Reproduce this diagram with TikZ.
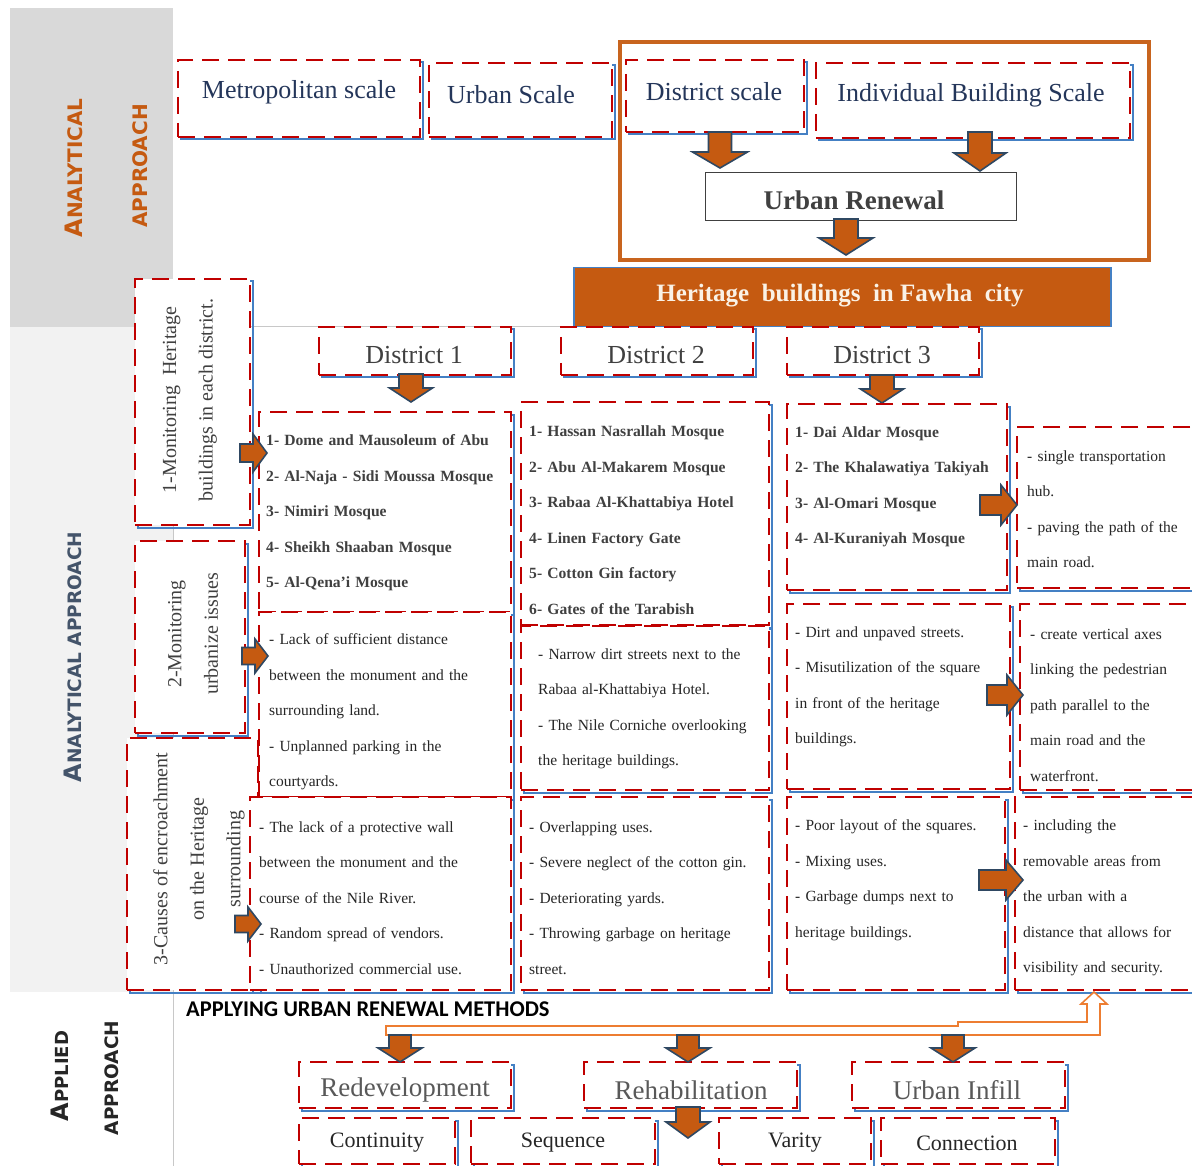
\documentclass[tikz,border=0pt]{standalone}
\usepackage{fontspec}
\setmainfont{Liberation Serif}
\newfontfamily\dvs{DejaVu Sans}
\newfontfamily\carl{Carlito}
\usetikzlibrary{calc}
\definecolor{dred}{RGB}{192,0,0}
\definecolor{sblue}{RGB}{68,128,196}
\definecolor{aorange}{RGB}{197,90,17}
\definecolor{adark}{RGB}{47,72,98}
\definecolor{fram}{RGB}{200,100,30}
\definecolor{connc}{RGB}{237,125,49}
\definecolor{tblue}{RGB}{36,54,90}
\definecolor{tgray}{RGB}{64,64,64}
\definecolor{tdark}{RGB}{38,38,38}
\definecolor{tmid}{RGB}{89,89,89}
\definecolor{bgA}{RGB}{217,217,217}
\definecolor{bgB}{RGB}{242,242,242}
\definecolor{slate}{RGB}{68,84,106}
\definecolor{cream}{RGB}{250,242,230}
\definecolor{gridc}{RGB}{200,200,200}
\tikzset{
  rbox/.style={draw=dred, line width=2.5pt, dash pattern=on 17pt off 9pt, fill=white,
    inner sep=0pt, outer sep=0pt, anchor=north west,
    preaction={draw=sblue, line width=2pt, solid, fill=none,
      transform canvas={xshift=2.5pt,yshift=-2.5pt}}},
  blk/.style={fill=aorange, draw=adark, line width=1.6pt, line join=miter},
  pics/darr/.style n args={4}{code={
    \draw[blk] (-#2,0) -- (#2,0) -- (#2,#1-#4) -- (#3,#1-#4) -- (0,#1) -- (-#3,#1-#4) -- (-#2,#1-#4) -- cycle;
  }},
  pics/rarr/.style n args={4}{code={
    \draw[blk] (0,-#2) -- (#1-#4,-#2) -- (#1-#4,-#3) -- (#1,0) -- (#1-#4,#3) -- (#1-#4,#2) -- (0,#2) -- cycle;
  }},
  sctext/.style={font=\fontsize{26}{30}\selectfont, text=tblue, inner sep=0pt},
  dtext/.style={font=\fontsize{26}{30}\selectfont, text=tgray, inner sep=0pt},
  mtext/.style={font=\fontsize{27}{30}\selectfont, text=tmid, inner sep=0pt},
  ptext/.style={font=\fontsize{22}{26}\selectfont, text=tdark, inner sep=0pt},
  listb/.style={font=\fontsize{15.6}{35.5}\selectfont\bfseries, text=tgray, anchor=west,
    inner sep=0pt, text width=250pt, align=left},
  listr/.style={font=\fontsize{15.5}{35.5}\selectfont, text=tdark, anchor=west,
    inner sep=0pt, text width=250pt, align=left},
  rot/.style={rotate=90, align=center, font=\fontsize{20}{36.5}\selectfont, text=tgray, inner sep=0pt},
  captext/.style={rotate=90, inner sep=0pt, font=\dvs\bfseries},
}
\newcommand{\mybox}[5]{\node[rbox, minimum width={#4-#2}, minimum height={#5-#3}] (#1) at (#2,#3) {};}
\begin{document}
\begin{tikzpicture}[x=1pt,y=-1pt]
\useasboundingbox (0,0) rectangle (1192,1166);
\fill[white] (0,0) rectangle (1192,1166);
% table background
\fill[bgA] (10,8) rectangle (173,327);
\fill[bgB] (10,327) rectangle (173,992);
\draw[gridc, line width=1pt] (173,327) -- (800,327);
\draw[gridc, line width=1pt] (173,327) -- (173,1166);
% side captions
\node[captext, text=aorange] (capA) at (74,168) {{\fontsize{24}{24}\selectfont A}{\fontsize{20}{20}\selectfont NALYTICAL}};
\node[captext, text=aorange] (capB) at (140,166) {\fontsize{20}{20}\selectfont APPROACH};
\node[captext, text=slate] (capC) at (73,657) {{\fontsize{24}{24}\selectfont A}{\fontsize{18.5}{20}\selectfont NALYTICAL APPROACH}};
\node[captext, text=tdark] (capD) at (60,1076) {{\fontsize{24}{24}\selectfont A}{\fontsize{18}{20}\selectfont PPLIED}};
\node[captext, text=tdark] (capE) at (112,1078) {\fontsize{18.5}{20}\selectfont APPROACH};
\node[anchor=base west, inner sep=0pt, font=\carl\bfseries\fontsize{22.5}{24}\selectfont, text=black] (applying) at (186,1016) {APPLYING URBAN RENEWAL METHODS};
% top scales
\mybox{metro}{178}{60}{420}{137}
\mybox{urban}{429}{63}{612}{137}
\node[draw=fram, line width=4pt, anchor=north west, inner sep=0pt, minimum width=529, minimum height=218] (frame) at (618,40) {};
\mybox{dscale}{626}{60}{804}{132}
\mybox{ibs}{816}{63}{1130}{138}
\node[sctext] (tmetro) at (299,92) {Metropolitan scale};
\node[sctext] (turban) at (511,95) {Urban Scale};
\node[sctext] (tdscale) at (714,92) {District scale};
\node[sctext] (tibs) at (971,95) {Individual Building Scale};
\node[draw=tgray, line width=1.2pt, fill=white, anchor=north west, inner sep=0pt, minimum width=311, minimum height=48] (renew) at (705,172) {};
\node[font=\fontsize{27}{30}\selectfont\bfseries, text=tgray, inner sep=0pt] (trenew) at (854,200) {Urban Renewal};
\node[fill=aorange, draw=sblue, line width=1.5pt, anchor=north west, inner sep=0pt, minimum width=537, minimum height=59] (herit) at (573,267) {};
\node[font=\fontsize{25}{28}\selectfont\bfseries, text=cream, inner sep=0pt] (therit) at (840,296) {Heritage\ \ buildings\ \ in Fawha\ \ city};
\pic (a1) at (720,132) {darr={36}{11.5}{27.5}{16}};
\pic (a2) at (980,132) {darr={39}{12}{26}{18}};
\pic (a3) at (846,219) {darr={36}{12}{27}{17}};
% left monitoring boxes
\mybox{m1}{135}{279}{250}{525}
\mybox{m2}{135}{541}{245}{733}
\mybox{m3}{127}{738}{258}{990}
\node[rot] (tm1) at (190,400) {1-Monitoring\ \ Heritage\\buildings in each district.};
\node[rot] (tm2) at (193,634) {2-Monitoring\\urbanize issues};
\node[rot] (tm3) at (199,859) {3-Causes of encroachment\\on the Heritage\\surrounding};
% districts
\mybox{d1}{319}{327}{511}{375}
\mybox{d2}{561}{327}{753}{375}
\mybox{d3}{787}{327}{979}{375}
\node[dtext] (td1) at (414,355) {District 1};
\node[dtext] (td2) at (656,355) {District 2};
\node[dtext] (td3) at (882,355) {District 3};
\pic (a4) at (411,374) {darr={28}{12}{21.5}{14}};
\pic (a5) at (882,375) {darr={28}{12}{21.5}{14}};
% building lists
\mybox{l1}{259}{412}{511}{612}
\mybox{l2}{521}{402}{769}{625}
\mybox{l3}{787}{404}{1007}{590}
\mybox{r1}{1017}{427}{1205}{588}
\node[listb] (tl1) at (266,513) {1- Dome and Mausoleum of Abu\\2- Al-Naja - Sidi Moussa Mosque\\3- Nimiri Mosque\\4- Sheikh Shaaban Mosque\\5- Al-Qena'i Mosque};
\node[listb] (tl2) at (529,520) {1- Hassan Nasrallah Mosque\\2- Abu Al-Makarem Mosque\\3- Rabaa Al-Khattabiya Hotel\\4- Linen Factory Gate\\5- Cotton Gin factory\\6- Gates of the Tarabish};
\node[listb] (tl3) at (795,487) {1- Dai Aldar Mosque\\2- The Khalawatiya Takiyah\\3- Al-Omari Mosque\\4- Al-Kuraniyah Mosque};
\node[listr] (tr1) at (1027,509) {- single transportation\\hub.\\- paving the path of the\\main road.};
% issues
\mybox{i1}{259}{612}{511}{797}
\mybox{i2}{521}{626}{769}{790}
\mybox{i3}{787}{604}{1010}{789}
\mybox{r2}{1020}{604}{1205}{790}
\node[listr] (ti1) at (269,712) {- Lack of sufficient distance\\between the monument and the\\surrounding land.\\- Unplanned parking in the\\courtyards.};
\node[listr] (ti2) at (538,709) {- Narrow dirt streets next to the\\Rabaa al-Khattabiya Hotel.\\- The Nile Corniche overlooking\\the heritage buildings.};
\node[listr] (ti3) at (795,687) {- Dirt and unpaved streets.\\- Misutilization of the square\\in front of the heritage\\buildings.};
\node[listr] (tr2) at (1030,705) {- create vertical axes\\linking the pedestrian\\path parallel to the\\main road and the\\waterfront.};
% causes
\mybox{c1}{250}{797}{511}{990}
\mybox{c2}{521}{797}{769}{990}
\mybox{c3}{787}{797}{1005}{990}
\mybox{r3}{1015}{797}{1205}{990}
\node[listr] (tc1) at (259,898) {- The lack of a protective wall\\between the monument and the\\course of the Nile River.\\- Random spread of vendors.\\- Unauthorized commercial use.};
\node[listr] (tc2) at (529,898) {- Overlapping uses.\\- Severe neglect of the cotton gin.\\- Deteriorating yards.\\- Throwing garbage on heritage\\street.};
\node[listr] (tc3) at (795,880) {- Poor layout of the squares.\\- Mixing uses.\\- Garbage dumps next to\\heritage buildings.};
\node[listr] (tr3) at (1023,898) {- including the\\removable areas from\\the urban with a\\distance that allows for\\visibility and security.};
% right arrows
\pic (b1) at (240,453) {rarr={27}{9}{19}{14}};
\pic (b2) at (242,656) {rarr={26}{8.5}{17}{13}};
\pic (b3) at (235,924) {rarr={26}{8.5}{17}{13}};
\pic (b4) at (980,505) {rarr={37}{10}{20}{16}};
\pic (b5) at (987,695) {rarr={36}{10}{20}{16}};
\pic (b6) at (979,880) {rarr={44}{10}{20}{17}};
% applied approach
\draw[connc, line width=1.6pt, fill=white, line join=miter] (386,1026) -- (958,1026) -- (958,1022) -- (1087,1022) -- (1087,1004) -- (1081,1004) -- (1094,992) -- (1107,1004) -- (1100,1004) -- (1100,1035) -- (386,1035) -- cycle;
\mybox{redev}{299}{1062}{511}{1108}
\mybox{rehab}{584}{1062}{797}{1108}
\mybox{infill}{852}{1062}{1065}{1108}
\mybox{cont}{299}{1118}{455}{1164}
\mybox{seq}{471}{1118}{655}{1164}
\mybox{var}{719}{1118}{871}{1164}
\mybox{conx}{881}{1118}{1055}{1164}
\node[mtext] (tredev) at (405,1090) {Redevelopment};
\node[mtext] (trehab) at (691,1090) {Rehabilitation};
\node[mtext] (tinfill) at (957,1090) {Urban Infill};
\node[ptext] (tcont) at (377,1143) {Continuity};
\node[ptext] (tseq) at (563,1143) {Sequence};
\node[ptext] (tvar) at (795,1143) {Varity};
\node[ptext] (tconx) at (967,1143) {Connection};
\pic (c1a) at (400,1035) {darr={27}{11}{22}{14}};
\pic (c2a) at (688,1035) {darr={27}{11}{22}{14}};
\pic (c3a) at (953,1035) {darr={27}{11}{22}{14}};
\pic (c4a) at (688,1107) {darr={31}{12}{22}{16}};
\end{tikzpicture}
\end{document}
